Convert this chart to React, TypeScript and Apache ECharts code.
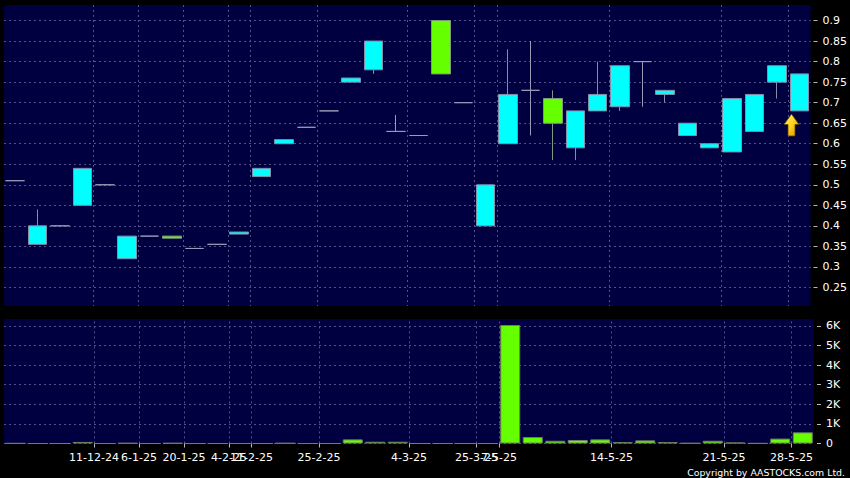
import { useEffect, useRef } from 'react';
import * as echarts from 'echarts';

// ---- data ----
const dates = [
  '26-11-24', '29-11-24', '3-12-24', '5-12-24', '11-12-24', '18-12-24', '6-1-25', '13-1-25',
  '20-1-25', '24-1-25', '4-2-25', '11-2-25', '14-2-25', '19-2-25', '25-2-25', '26-2-25',
  '27-2-25', '28-2-25', '4-3-25', '11-3-25', '18-3-25', '25-3-25', '7-5-25', '8-5-25',
  '9-5-25', '12-5-25', '13-5-25', '14-5-25', '15-5-25', '16-5-25', '19-5-25', '20-5-25',
  '21-5-25', '22-5-25', '27-5-25', '28-5-25',
];
const tickDates = [
  '11-12-24', '6-1-25', '20-1-25', '4-2-25', '11-2-25', '25-2-25', '4-3-25', '25-3-25',
  '7-5-25', '14-5-25', '21-5-25', '28-5-25',
];
const opens = [
  0.51, 0.355, 0.40, 0.45, 0.50, 0.32, 0.375, 0.375, 0.345, 0.355, 0.38, 0.52,
  0.60, 0.64, 0.68, 0.75, 0.78, 0.63, 0.62, 0.90, 0.70, 0.40, 0.60, 0.73,
  0.71, 0.59, 0.68, 0.69, 0.80, 0.72, 0.62, 0.59, 0.58, 0.63, 0.75, 0.68,
];
const closes = [
  0.51, 0.40, 0.40, 0.54, 0.50, 0.375, 0.375, 0.37, 0.345, 0.355, 0.385, 0.54,
  0.61, 0.64, 0.68, 0.76, 0.85, 0.63, 0.62, 0.77, 0.70, 0.50, 0.72, 0.73,
  0.65, 0.68, 0.72, 0.79, 0.80, 0.73, 0.65, 0.60, 0.71, 0.72, 0.79, 0.77,
];
const lows = [
  0.51, 0.355, 0.40, 0.45, 0.50, 0.32, 0.375, 0.37, 0.345, 0.355, 0.38, 0.52,
  0.60, 0.64, 0.68, 0.75, 0.77, 0.63, 0.62, 0.77, 0.70, 0.40, 0.60, 0.62,
  0.56, 0.56, 0.68, 0.68, 0.69, 0.70, 0.62, 0.59, 0.58, 0.63, 0.71, 0.68,
];
const highs = [
  0.51, 0.44, 0.40, 0.54, 0.50, 0.375, 0.375, 0.375, 0.345, 0.355, 0.385, 0.54,
  0.61, 0.64, 0.68, 0.76, 0.85, 0.67, 0.62, 0.90, 0.70, 0.50, 0.83, 0.85,
  0.73, 0.68, 0.80, 0.79, 0.80, 0.73, 0.65, 0.60, 0.71, 0.72, 0.79, 0.77,
];
const volumes = [
  10, 0, 0, 80, 0, 20, 0, 20, 0, 0, 0, 0,
  20, 0, 0, 210, 90, 90, 0, 0, 0, 0, 6050, 330,
  140, 180, 210, 70, 160, 70, 20, 140, 50, 10, 250, 570,
];

// ---- styles ----
const NAVY = '#000040';
const GRID_LINE = '#50508c';
const UP = '#00ffff';
const DOWN = '#66ff00';
const DOJI = '#9a9ab8';
const FONT = 'DejaVu Sans';

const boundaryCats = [...dates, 'end'];
const isTick = (_i: number, v: string) => tickDates.includes(v);

const candleData = opens.map((o, i) => {
  const v = [o, closes[i], lows[i], highs[i]];
  if (o === closes[i]) {
    return {
      value: v,
      itemStyle: { color: DOJI, color0: DOJI, borderColor: DOJI, borderColor0: DOJI, borderColorDoji: DOJI },
    };
  }
  return v;
});

const dashed = { show: true, lineStyle: { color: GRID_LINE, type: [2, 3] as any, width: 1 } };

const yCommon = {
  type: 'value' as const,
  position: 'right' as const,
  offset: 3,
  axisLine: { show: false },
  axisTick: { show: true, length: 4, lineStyle: { color: '#b8b8b8' } },
  splitLine: dashed,
};

const option: any = {
  animation: false,
  backgroundColor: '#000000',
  grid: [
    { left: 4, right: 36, top: -2.39, bottom: 170.01, show: true, backgroundColor: NAVY, borderWidth: 0 },
    { left: 4, right: 36, top: 306.4, bottom: 34.5, show: true, backgroundColor: NAVY, borderWidth: 0 },
  ],
  xAxis: [
    {
      type: 'category', gridIndex: 0, data: dates, boundaryGap: true, position: 'bottom',
      axisLine: { show: false }, axisTick: { show: false }, axisLabel: { show: false }, splitLine: { show: false },
    },
    {
      type: 'category', gridIndex: 0, data: boundaryCats, boundaryGap: false, position: 'bottom',
      axisLine: { show: false }, axisTick: { show: false }, axisLabel: { show: false },
      splitLine: { ...dashed, interval: isTick },
    },
    {
      type: 'category', gridIndex: 1, data: dates, boundaryGap: true, position: 'bottom',
      axisLine: { show: false }, axisTick: { show: false }, axisLabel: { show: false }, splitLine: { show: false },
    },
    {
      type: 'category', gridIndex: 1, data: boundaryCats, boundaryGap: false, position: 'bottom',
      axisLine: { show: false },
      axisTick: { show: true, interval: isTick, length: 4, lineStyle: { color: '#b8b8b8' } },
      axisLabel: { show: true, interval: isTick, color: '#ffffff', fontSize: 11, fontFamily: FONT, margin: 8 },
      splitLine: { ...dashed, interval: isTick },
    },
  ],
  yAxis: [
    {
      ...yCommon, gridIndex: 0, min: 0.2, max: 0.95, interval: 0.05,
      axisLabel: {
        color: '#ffffff', fontSize: 11, fontFamily: FONT, margin: 9,
        formatter: (v: number) => (v < 0.24 || v > 0.91 ? '' : String(Math.round(v * 100) / 100)),
      },
    },
    {
      ...yCommon, gridIndex: 1, min: 0, max: 7000, interval: 1000,
      axisLabel: {
        color: '#ffffff', fontSize: 11, fontFamily: FONT, margin: 9,
        formatter: (v: number) => (v > 6500 ? '' : v === 0 ? '0' : v / 1000 + 'K'),
      },
    },
  ],
  series: [
    {
      type: 'candlestick', xAxisIndex: 0, yAxisIndex: 0, data: candleData, barWidth: 19,
      itemStyle: {
        color: UP, color0: DOWN, borderColor: '#8090aa', borderColor0: '#7f9a80',
        borderColorDoji: DOJI, borderWidth: 1,
      },
    },
    {
      type: 'bar', xAxisIndex: 2, yAxisIndex: 1, data: volumes, barWidth: 20,
      itemStyle: { color: DOWN, borderColor: '#6e7e62', borderWidth: 1 },
    },
  ],
  graphic: [
    { type: 'rect', z: 100, silent: true, shape: { x: 0, y: 0, width: 850, height: 5 }, style: { fill: '#000000' } },
    { type: 'rect', z: 100, silent: true, shape: { x: 0, y: 306, width: 850, height: 13 }, style: { fill: '#000000' } },
    {
      type: 'polygon', z: 101, silent: true,
      shape: { points: [[791.5, 114], [799, 124.5], [795, 124.5], [795, 136], [788, 136], [788, 124.5], [784, 124.5]] },
      style: {
        fill: {
          type: 'linear', x: 0, y: 0, x2: 1, y2: 1,
          colorStops: [{ offset: 0, color: '#fff27a' }, { offset: 0.5, color: '#ffd21a' }, { offset: 1, color: '#d88a00' }],
        },
        stroke: '#5a4200', lineWidth: 0.8,
      },
    },
    {
      type: 'text', z: 101, silent: true, x: 845, y: 472,
      style: { text: 'Copyright by AASTOCKS.com Ltd.', fill: '#ffffff', font: `9.4px "${FONT}"`, align: 'right', verticalAlign: 'middle' },
    },
  ],
};

export default function App() {
  const ref = useRef<HTMLDivElement>(null);
  useEffect(() => {
    const chart = echarts.init(ref.current!, null, { renderer: 'svg' });
    chart.setOption(option);
    return () => chart.dispose();
  }, []);
  return (
    <div
      ref={ref}
      style={{ position: 'fixed', left: 0, top: 0, width: 850, height: 478, background: '#000000' }}
    />
  );
}
